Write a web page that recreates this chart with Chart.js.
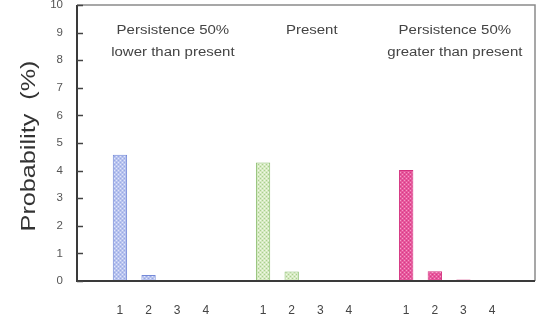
<!DOCTYPE html>
<html>
<head>
<meta charset="utf-8">
<script src="https://cdn.jsdelivr.net/npm/chart.js@4/dist/chart.umd.min.js"></script>
<style>
  html, body { margin: 0; padding: 0; background: #fff; }
  #wrap { width: 539px; height: 323px; }
</style>
</head>
<body>
<div id="wrap"><canvas id="c" width="539" height="323"></canvas></div>
<script>
// Number of tranches (1-4) under each persistence scenario
const ranks = ['1', '2', '3', '4'];
const scenarioNames = [
  ['Persistence 50%', 'lower than present'],
  ['Present'],
  ['Persistence 50%', 'greater than present']
];
// Probability (%) for each rank, per scenario
const lowerValues   = [4.57, 0.22, 0.02, 0.01];
const presentValues = [4.29, 0.34, 0.03, 0.01];
const greaterValues = [4.02, 0.35, 0.05, 0.01];
const yTicks = [0, 1, 2, 3, 4, 5, 6, 7, 8, 9, 10];

// Slot layout: blank, four ranks, blank, four ranks, blank, four ranks, blank
const slotLabels = [''];
ranks.forEach(r => slotLabels.push(r)); slotLabels.push('');
ranks.forEach(r => slotLabels.push(r)); slotLabels.push('');
ranks.forEach(r => slotLabels.push(r)); slotLabels.push('');

function placeGroup(values, start) {
  const arr = new Array(slotLabels.length).fill(null);
  values.forEach((v, i) => { arr[start + i] = v; });
  return arr;
}

// Stippled fill for the bars
function stipple(base, dot, dot2) {
  const c = document.createElement('canvas');
  c.width = 4; c.height = 4;
  const g = c.getContext('2d');
  g.fillStyle = base; g.fillRect(0, 0, 4, 4);
  g.fillStyle = dot; g.fillRect(0, 0, 1, 1); g.fillRect(2, 2, 1, 1);
  g.fillStyle = dot2; g.fillRect(2, 0, 1, 1); g.fillRect(0, 2, 1, 1);
  return g.createPattern(c, 'repeat');
}

const ctx = document.getElementById('c').getContext('2d');

// Group captions, anchored to slot positions on the x scale
const captionAnchors = [2.85, 7.7, 12.7];
const captionPlugin = {
  id: 'captions',
  afterDraw(chart) {
    const g = chart.ctx;
    const xs = chart.scales.x;
    g.save();
    g.fillStyle = '#444';
    g.font = '12.5px "Liberation Sans", Arial, sans-serif';
    g.textAlign = 'center';
    g.textBaseline = 'middle';
    scenarioNames.forEach((lines, k) => {
      const cx = xs.getPixelForValue(captionAnchors[k]);
      lines.forEach((t, j) => {
        g.save();
        g.translate(cx, 31 + j * 22);
        g.scale(1.2, 1);
        g.fillText(t, 0, 0);
        g.restore();
      });
    });
    g.restore();
  }
};

// Frame, axis lines, inward tick marks and the rotated axis title
const framePlugin = {
  id: 'frame',
  afterDatasetsDraw(chart) {
    const g = chart.ctx;
    const a = chart.chartArea;
    const ys = chart.scales.y;
    g.save();
    g.strokeStyle = '#8a8a8a';
    g.lineWidth = 1.5;
    g.beginPath();
    g.moveTo(a.left, a.top); g.lineTo(a.right, a.top); g.lineTo(a.right, a.bottom);
    g.stroke();
    g.strokeStyle = '#3a3a3a';
    g.lineWidth = 2;
    g.beginPath();
    g.moveTo(a.left, a.top); g.lineTo(a.left, a.bottom); g.lineTo(a.right, a.bottom);
    g.stroke();
    g.lineWidth = 1.5;
    g.strokeStyle = '#444';
    yTicks.forEach(v => {
      const y = Math.round(ys.getPixelForValue(v)) + 0.5;
      g.beginPath(); g.moveTo(a.left, y); g.lineTo(a.left + 6, y); g.stroke();
    });
    g.fillStyle = '#333';
    g.font = '21px "Liberation Sans", Arial, sans-serif';
    g.textAlign = 'center';
    g.textBaseline = 'middle';
    g.translate(29, (a.top + a.bottom) / 2 + 3);
    g.rotate(-Math.PI / 2);
    g.scale(1.2, 1);
    g.fillText('Probability  (%)', 0, 0);
    g.restore();
  }
};

new Chart(ctx, {
  type: 'bar',
  data: {
    labels: slotLabels,
    datasets: [
      {
        label: 'Persistence 50% lower than present',
        data: placeGroup(lowerValues, 1),
        backgroundColor: stipple('#b8c3ee', '#e0e6fb', '#98a9e6'),
        borderColor: '#7489d8',
        borderWidth: 1
      },
      {
        label: 'Present',
        data: placeGroup(presentValues, 6),
        backgroundColor: stipple('#d6eac2', '#f1f8e8', '#a9cf8f'),
        borderColor: '#8abd6e',
        borderWidth: 1
      },
      {
        label: 'Persistence 50% greater than present',
        data: placeGroup(greaterValues, 11),
        backgroundColor: stipple('#e7579c', '#f59ac6', '#d63a86'),
        borderColor: '#d4307e',
        borderWidth: 1
      }
    ]
  },
  options: {
    responsive: false,
    animation: false,
    devicePixelRatio: 1,
    layout: { padding: { top: 5, right: 4, left: 0, bottom: 0 } },
    datasets: { bar: { grouped: false, barPercentage: 0.5, categoryPercentage: 1.0 } },
    plugins: { legend: { display: false }, tooltip: { enabled: false } },
    scales: {
      x: {
        type: 'category',
        grid: { display: false, drawTicks: false },
        border: { display: false },
        ticks: {
          color: '#444',
          font: { size: 12, family: '"Liberation Sans", Arial, sans-serif' },
          padding: 22,
          autoSkip: false,
          maxRotation: 0
        },
        afterFit(s) { s.height = 42; s.paddingLeft = 0; s.paddingRight = 0; }
      },
      y: {
        min: 0,
        max: 10,
        grid: { display: false, drawTicks: false },
        border: { display: false },
        ticks: {
          stepSize: 1,
          color: '#555',
          font: { size: 11.5, family: '"Liberation Sans", Arial, sans-serif' },
          padding: 14
        },
        afterFit(s) { s.width = 77; s.paddingTop = 0; s.paddingBottom = 0; }
      }
    }
  },
  plugins: [captionPlugin, framePlugin]
});
</script>
</body>
</html>
